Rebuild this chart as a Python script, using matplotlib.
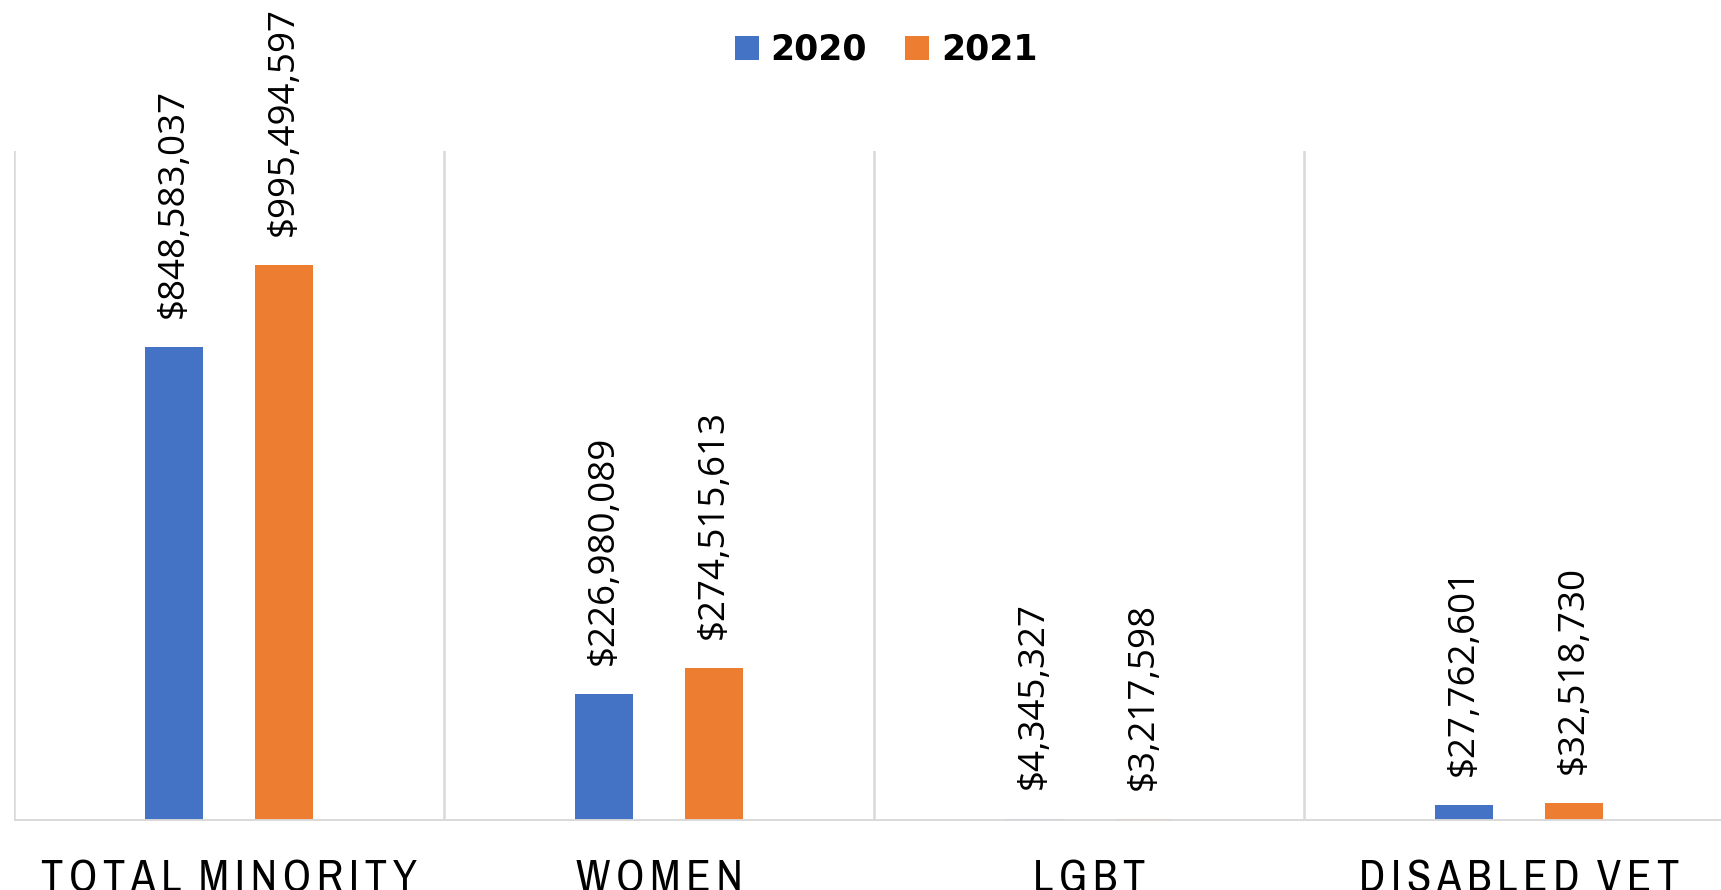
import matplotlib
matplotlib.use("Agg")
import matplotlib.pyplot as plt
from matplotlib import font_manager
import numpy as np

# data
categories = ["TOTAL MINORITY", "WOMEN", "LGBT", "DISABLED VET"]
years = ["2020", "2021"]
spend_2020 = [848583037, 226980089, 4345327, 27762601]
spend_2021 = [995494597, 274515613, 3217598, 32518730]

colors = ["#4472C4", "#ED7D31"]
grid_color = "#D9D9D9"


def pick_narrow_font():
    # look for a condensed / narrow face; fall back to DejaVu Sans
    for f in font_manager.fontManager.ttflist:
        if ("Narrow" in f.name or "Condensed" in f.name) and f.style == "normal" \
                and f.weight in (400, "normal", "regular"):
            return f.fname, True
    for f in font_manager.fontManager.ttflist:
        if "condensed" in str(f.stretch) and f.style == "normal" \
                and f.weight in (400, "normal", "regular"):
            return f.fname, True
    return None, False


def spaced(label):
    # wide letter spacing like the original axis labels
    return "\u2009\u2009\u2009".join("\u2009".join(word) for word in label.split())


fig = plt.figure(figsize=(17.21, 8.90), dpi=100)
ax = fig.add_axes([14 / 1721, 1 - 821 / 890, (1734 - 14) / 1721, 670 / 890])

x = np.arange(len(categories))
offset = 0.128
width = 0.135

for i, (vals, year) in enumerate(zip([spend_2020, spend_2021], years)):
    pos = x + (-offset if i == 0 else offset)
    bars = ax.bar(pos, vals, width=width, color=colors[i], label=year, zorder=3)
    for b, v in zip(bars, vals):
        ax.annotate("${:,}".format(v), (b.get_x() + b.get_width() / 2, v),
                    xytext=(0, 21), textcoords="offset points",
                    rotation=90, ha="center", va="bottom",
                    fontsize=26.5, family="Open Sans", color="black")

ax.set_xlim(-0.5, len(categories) - 0.5)
ax.set_ylim(0, 1.2e9)

# category separators and baseline
for b in np.arange(len(categories) + 1) - 0.5:
    ax.axvline(b, color=grid_color, lw=1.8, zorder=1)
ax.axhline(0, color=grid_color, lw=2.8, zorder=4)

for s in ax.spines.values():
    s.set_visible(False)
ax.set_yticks([])
ax.set_xticks(x)

fname, narrow = pick_narrow_font()
if narrow:
    tick_font = font_manager.FontProperties(fname=fname, size=32)
else:
    tick_font = font_manager.FontProperties(family="DejaVu Sans", size=25)
ax.set_xticklabels([spaced(c) for c in categories], fontproperties=tick_font,
                   color="black")
ax.tick_params(axis="x", length=0, pad=28)

handles, labels = ax.get_legend_handles_labels()
fig.legend(handles, labels, loc="center", bbox_to_anchor=(886 / 1721, 1 - 50 / 890),
           ncol=2, frameon=False, prop={"size": 25, "weight": "bold"},
           handlelength=0.7, handleheight=0.7, handletextpad=0.33,
           columnspacing=1.1)

fig.savefig("out.png", dpi=100)
